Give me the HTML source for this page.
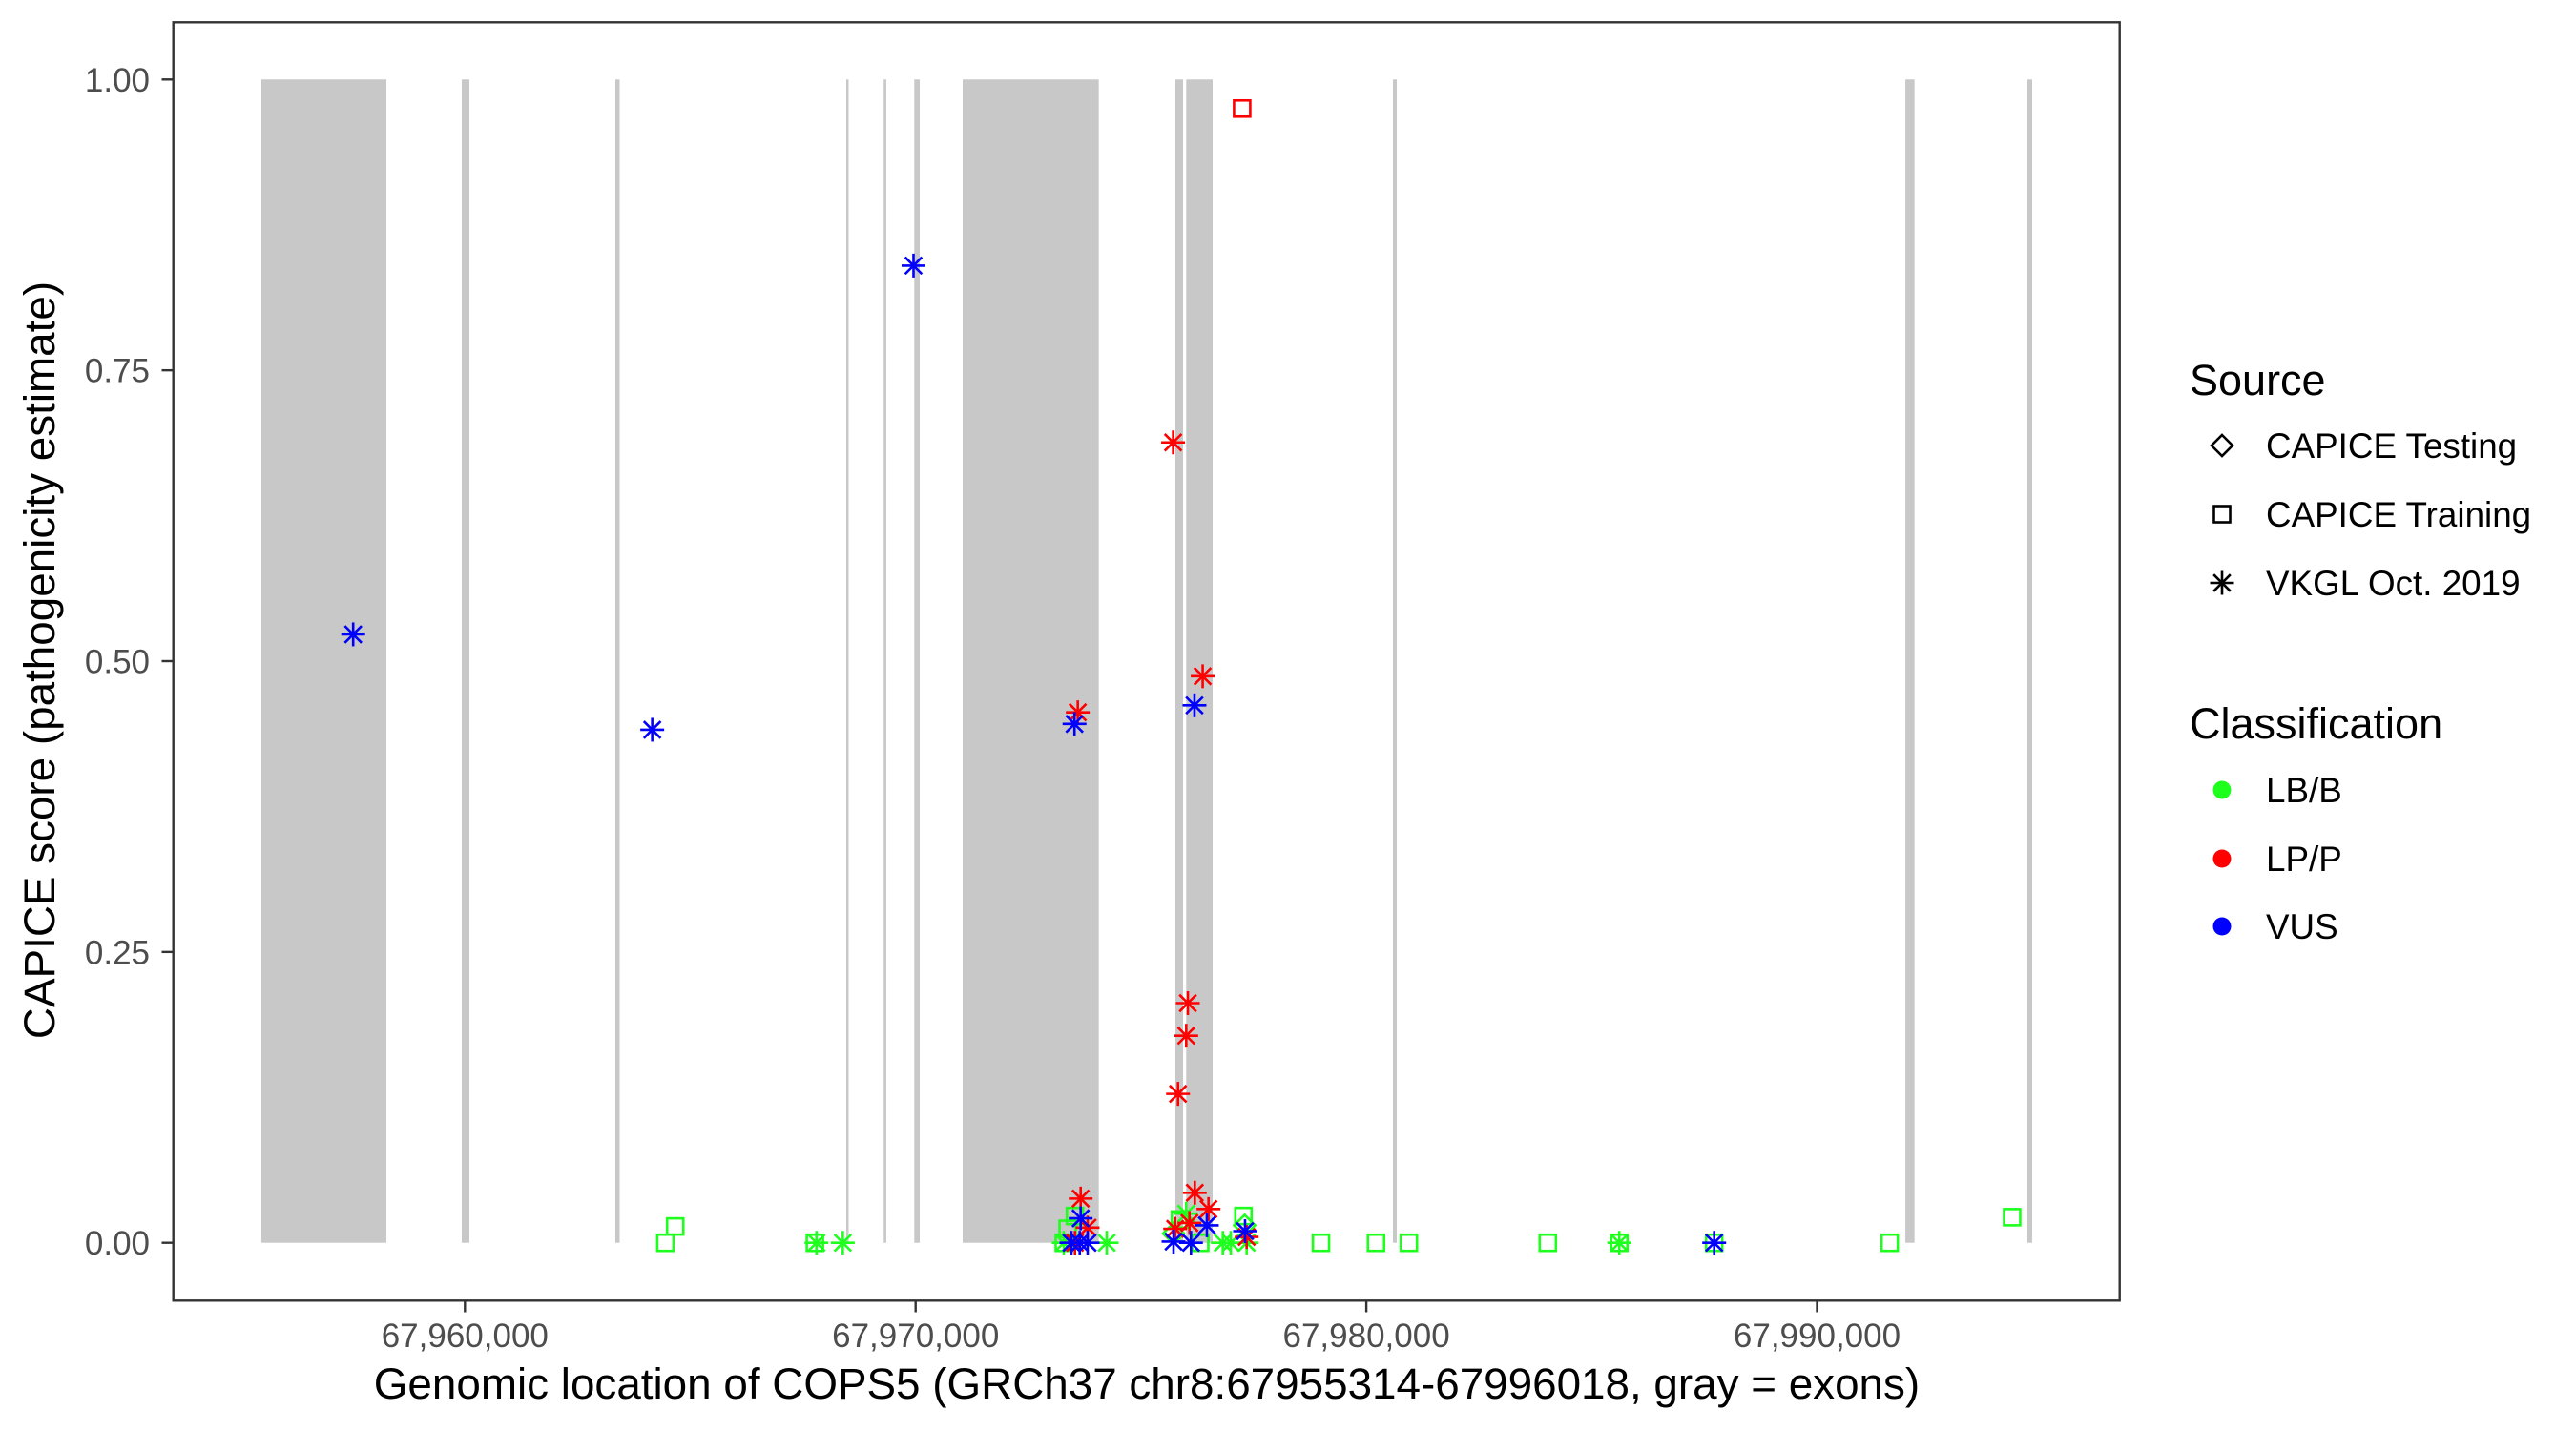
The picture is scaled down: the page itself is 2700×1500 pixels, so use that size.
<!DOCTYPE html>
<html><head><meta charset="utf-8">
<style>
html,body{margin:0;padding:0;background:#fff;}
svg{display:block;}
text{font-family:"Liberation Sans",Arial,sans-serif;}
</style></head>
<body>
<svg id="chart" width="2700" height="1500" viewBox="0 0 2700 1500" xmlns="http://www.w3.org/2000/svg">
  <rect x="0" y="0" width="2700" height="1500" fill="#fff"/>
  <g id="exons"></g>
  <g id="points"></g>
  <rect x="181.7" y="23.3" width="2040" height="1340" fill="none" stroke="#333" stroke-width="2.4"/>
  <g id="yaxis"></g>
  <g id="xaxis"></g>
  <text x="1202" y="1466" font-size="45.8" text-anchor="middle" fill="#000">Genomic location of COPS5 (GRCh37 chr8:67955314-67996018, gray = exons)</text>
  <text x="0" y="0" transform="translate(57,692) rotate(-90)" font-size="45.8" text-anchor="middle" fill="#000">CAPICE score (pathogenicity estimate)</text>
  <g id="legend">
    <text x="2295" y="414" font-size="45" fill="#000">Source</text>
    <text x="2295" y="774" font-size="45" fill="#000">Classification</text>
  </g>
</svg>
<script>
// ---- data ----
const exonStart = [67955485, 67959930, 67963338, 67968461, 67969292, 67969970, 67971044, 67975764, 67976003, 67980591, 67991960, 67994667];
const exonEnd   = [67958258, 67960099, 67963433, 67968514, 67969349, 67970091, 67974064, 67975933, 67976590, 67980676, 67992163, 67994773];

const greenSqBp    = [67964448, 67964666, 67967765, 67973287, 67973535, 67973372, 67975864, 67976314, 67977273, 67978994, 67980215, 67980944, 67984026, 67985613, 67987718, 67991612, 67994328];
const greenSqScore = [0.0, 0.014, 0.0, 0.0, 0.023, 0.012, 0.02, 0.0, 0.023, 0.0, 0.0, 0.0, 0.0, 0.0, 0.0, 0.0, 0.022];

const greenStarBp    = [67967800, 67968385, 67973287, 67974240, 67976003, 67976816, 67976992, 67977345, 67985613];
const greenStarScore = [0.0, 0.0, 0.0, 0.0, 0.025, 0.0, 0.0, 0.0, 0.0];

const greenDiaBp    = [67977300, 67975722];
const greenDiaScore = [0.015, 0.008];

const redSqBp    = [67977244];
const redSqScore = [0.975];

const redStarBp    = [67975713, 67976369, 67973598, 67976040, 67976004, 67975822, 67973662, 67973816, 67973535, 67976194, 67976498, 67976075, 67975758, 67977345];
const redStarScore = [0.688, 0.487, 0.456, 0.206, 0.178, 0.128, 0.038, 0.013, 0.0, 0.043, 0.029, 0.017, 0.012, 0.005];

const blueStarBp    = [67957521, 67964156, 67969953, 67973525, 67976187, 67987718, 67973662, 67973457, 67973641, 67973816, 67976462, 67976109, 67975722, 67977309];
const blueStarScore = [0.523, 0.441, 0.840, 0.446, 0.462, 0.0, 0.021, 0.0, 0.0, 0.0, 0.015, 0.0, 0.001, 0.01];

const yTicks = [0, 0.25, 0.5, 0.75, 1.0];
const yTickLabels = ["0.00", "0.25", "0.50", "0.75", "1.00"];
const xTicks = [67960000, 67970000, 67980000, 67990000];
const xTickLabels = ["67,960,000", "67,970,000", "67,980,000", "67,990,000"];

const sourceLabels = ["CAPICE Testing", "CAPICE Training", "VKGL Oct. 2019"];
const classLabels = ["LB/B", "LP/P", "VUS"];
const classColors = ["#1eff1e", "#ff0000", "#0000ff"];

// ---- scales ----
function xs(bp){ return 487.3 + (bp - 67960000) * 0.04724; }
function ys(v){ return 1302.7 - v * 1219.4; }

const NS = "http://www.w3.org/2000/svg";
function mk(tag, attrs, parent){
  const e = document.createElementNS(NS, tag);
  for (const k in attrs) e.setAttribute(k, attrs[k]);
  parent.appendChild(e);
  return e;
}

// exons
const gEx = document.getElementById('exons');
for (let i = 0; i < exonStart.length; i++){
  const r = mk('rect', {x: xs(exonStart[i]), y: ys(1), width: Math.max(1.5, xs(exonEnd[i]) - xs(exonStart[i])), height: ys(0) - ys(1), fill: '#c8c8c8'}, gEx);
  
  
}

// markers
function star(cx, cy, col, parent, name){
  const g = mk('g', {stroke: col, 'stroke-width': 2.6, fill: 'none'}, parent);
  
  
  const r = 12.5, d = r * 0.7071;
  mk('line', {x1: cx - r, y1: cy, x2: cx + r, y2: cy}, g);
  mk('line', {x1: cx, y1: cy - r, x2: cx, y2: cy + r}, g);
  mk('line', {x1: cx - d, y1: cy - d, x2: cx + d, y2: cy + d}, g);
  mk('line', {x1: cx - d, y1: cy + d, x2: cx + d, y2: cy - d}, g);
  return g;
}
function square(cx, cy, col, parent, name){
  const s = mk('rect', {x: cx - 8.5, y: cy - 8.5, width: 17, height: 17, fill: 'none', stroke: col, 'stroke-width': 2.6}, parent);
  
  
  return s;
}
function diamond(cx, cy, col, parent, name){
  const r = 11;
  const p = mk('polygon', {points: `${cx},${cy - r} ${cx + r},${cy} ${cx},${cy + r} ${cx - r},${cy}`, fill: 'none', stroke: col, 'stroke-width': 2.6}, parent);
  
  
  return p;
}

const gP = document.getElementById('points');
greenSqBp.forEach((b, i) => square(xs(b), ys(greenSqScore[i]), classColors[0], gP, 'training-lbb-point'));
greenDiaBp.forEach((b, i) => diamond(xs(b), ys(greenDiaScore[i]), classColors[0], gP, 'testing-lbb-point'));
greenStarBp.forEach((b, i) => star(xs(b), ys(greenStarScore[i]), classColors[0], gP, 'vkgl-lbb-point'));
redSqBp.forEach((b, i) => square(xs(b), ys(redSqScore[i]), classColors[1], gP, 'training-lpp-point'));
redStarBp.forEach((b, i) => star(xs(b), ys(redStarScore[i]), classColors[1], gP, 'vkgl-lpp-point'));
blueStarBp.forEach((b, i) => star(xs(b), ys(blueStarScore[i]), classColors[2], gP, 'vkgl-vus-point'));

// y axis
const gY = document.getElementById('yaxis');
yTicks.forEach((v, i) => {
  const t = mk('line', {x1: 169.5, y1: ys(v), x2: 181.7, y2: ys(v), stroke: '#333', 'stroke-width': 2.4}, gY);
  
  
  const l = mk('text', {x: 157, y: ys(v) + 12.5, 'font-size': 35, 'text-anchor': 'end', fill: '#4d4d4d'}, gY);
  
  
  l.textContent = yTickLabels[i];
});

// x axis
const gX = document.getElementById('xaxis');
xTicks.forEach((b, i) => {
  const t = mk('line', {x1: xs(b), y1: 1363.3, x2: xs(b), y2: 1375.5, stroke: '#333', 'stroke-width': 2.4}, gX);
  
  
  const l = mk('text', {x: xs(b), y: 1412, 'font-size': 35, 'text-anchor': 'middle', fill: '#4d4d4d'}, gX);
  
  
  l.textContent = xTickLabels[i];
});

// legend
const gL = document.getElementById('legend');
const srcY = [467, 539, 611];
diamond(2329, srcY[0], '#000', gL, 'legend-key-testing');
square(2329, srcY[1], '#000', gL, 'legend-key-training');
star(2329, srcY[2], '#000', gL, 'legend-key-vkgl');
sourceLabels.forEach((s, i) => {
  const t = mk('text', {x: 2375, y: srcY[i] + 13, 'font-size': 36.8, fill: '#000'}, gL);
  
  
  t.textContent = s;
});
const clsY = [828, 900, 971];
classLabels.forEach((s, i) => {
  const c = mk('circle', {cx: 2329, cy: clsY[i], r: 9.5, fill: classColors[i]}, gL);
  
  
  const t = mk('text', {x: 2375, y: clsY[i] + 13, 'font-size': 36.8, fill: '#000'}, gL);
  
  
  t.textContent = s;
});
</script>
</body></html>
